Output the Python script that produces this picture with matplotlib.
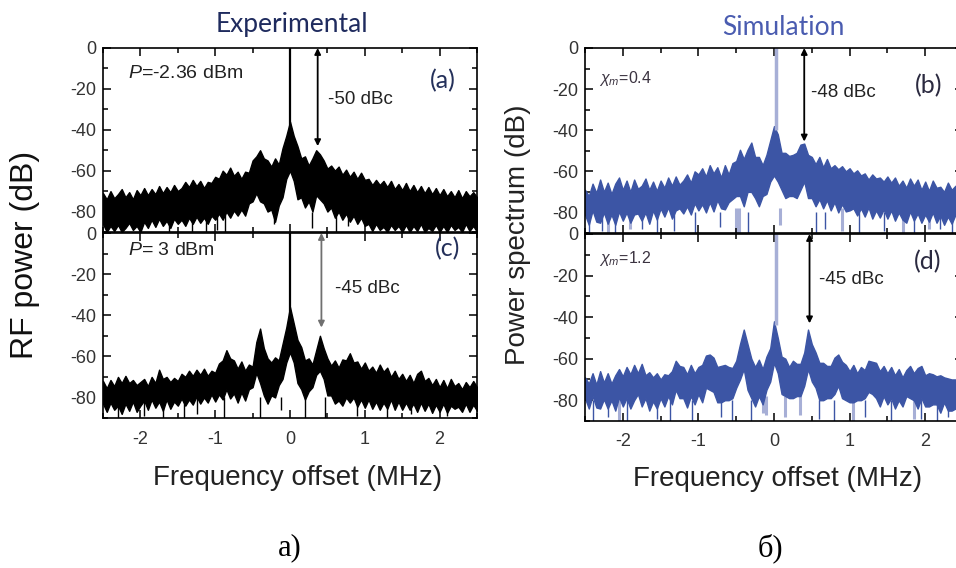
import numpy as np
import matplotlib
matplotlib.use('Agg')
import matplotlib.pyplot as plt
from matplotlib.ticker import MultipleLocator

plt.rcParams['font.family'] = ['Liberation Sans', 'DejaVu Sans']
plt.rcParams['axes.unicode_minus'] = False
plt.rcParams['mathtext.fontset'] = 'custom'
plt.rcParams['mathtext.rm'] = 'Liberation Sans'
plt.rcParams['mathtext.it'] = 'Liberation Sans:italic'

# frequency grid (MHz), 0.05 MHz step
freq = np.linspace(-2.5, 2.5, 101)

# (a) experimental, P = -2.36 dBm : upper / lower edge of the noisy trace (dB)
a_upper = [-71, -74, -70, -73.5, -71.5, -69, -73, -70.5, -74, -69.5, -72,
           -68.5, -72, -69, -71.5, -67.5, -71, -68, -70.5, -67, -70,
           -68.5, -65.5, -68, -64.5, -67.5, -65, -68.5, -65.5, -66, -63,
           -64, -60, -62, -58.5, -62.5, -60.5, -64, -60.5, -61, -55,
           -53, -50, -54, -55, -58, -54, -57, -49, -43, -36,
           -43, -48, -54, -53, -57.5, -54, -50, -52, -55, -59,
           -57.5, -60, -58, -62, -59.5, -63, -60.5, -64, -61, -64.5,
           -64, -67, -64.5, -67, -65, -68, -65, -69, -66.5, -69.5,
           -66, -70, -67, -70.5, -67.5, -71, -68, -71.5, -68.5, -72,
           -69, -72.5, -70, -73, -69.5, -73.5, -70, -72.5, -70.5, -73]
a_lower = [-86, -90, -87, -89.5, -86.5, -90, -88, -85.5, -89, -87, -90,
           -85, -88, -84, -87.5, -83.5, -87, -84.5, -88, -83.5, -86,
           -84, -87, -83, -86, -82.5, -85.5, -83, -86, -82, -84,
           -81, -84, -80, -83, -79.5, -82, -79, -82, -76, -75,
           -71, -75, -76, -80, -79, -85, -77, -73, -64, -60,
           -65, -74, -73, -78, -75, -80, -72, -74, -76, -80,
           -78, -83, -80, -84, -81, -85, -82, -86, -83, -87,
           -86, -89.5, -86, -89, -87.5, -90, -86.5, -89, -87, -90,
           -86.5, -90, -87, -89.5, -86, -90, -88, -89.5, -86.5, -90,
           -87, -90, -86.5, -89, -87.5, -90, -86, -89.5, -87, -90]
a_spike_x = [-1.62, -1.31, -1.12, -0.98, -0.87, -0.21, 0.29, 0.61, 0.77]
a_spike_y = [-90, -90, -90, -89, -90, -86, -88, -90, -87]

# (c) experimental, P = 3 dBm
c_upper = [-72, -75.5, -71.5, -74.5, -70, -73, -69.5, -73, -71.5, -74, -72.5,
           -71, -74.5, -70, -73, -66.5, -71, -70, -72.5, -70.5, -72,
           -68.5, -70, -67, -69.5, -66.5, -69, -66, -69.5, -67, -68,
           -63.5, -62, -57, -61, -62, -66, -62.5, -67, -64, -65,
           -53, -46.5, -56, -61, -63, -60.5, -62, -54, -46, -36,
           -44, -52, -55.5, -62, -61, -64, -57, -50, -56, -61,
           -64.5, -62, -65.5, -61.5, -62, -58.5, -63, -62.5, -66, -63,
           -67, -65, -68, -64, -67.5, -65.5, -70, -67, -71, -68.5,
           -72, -69, -73, -68.5, -67, -72, -70.5, -74, -71, -75,
           -71.5, -75.5, -71, -74.5, -73, -76, -72.5, -75, -72, -75]
c_lower = [-83, -87, -82.5, -86, -84, -88, -83, -86.5, -82, -87, -84,
           -81.5, -86, -81, -85, -82, -86.5, -81, -85.5, -82, -84,
           -80.5, -84, -81, -83.5, -79.5, -83, -80, -82.5, -78.5, -82,
           -78.5, -81, -76, -80.5, -78, -82.5, -77.5, -81.5, -76, -75,
           -68, -73, -79, -83, -79, -80, -74, -71, -63, -58,
           -63, -73, -76, -81, -77, -75, -69, -67, -71, -79,
           -79, -83, -81.5, -84, -80, -82.5, -80, -84.5, -81, -85,
           -81, -85.5, -82, -86, -82.5, -85.5, -81, -86, -82, -86,
           -82.5, -86, -83, -87, -82.5, -86.5, -83, -87.5, -83.5, -87,
           -83, -87.5, -84, -85.5, -84.5, -87, -83, -87, -83.5, -86.5]
c_spike_x = [-2.3, -1.95, -1.7, -1.42, -1.25, -0.88, -0.4, -0.12, 0.2, 0.47, 0.9, 1.3, 1.62, 2.1]
c_spike_y = [-90, -89, -90, -90, -88, -90, -90, -86, -90, -90, -89, -90, -88, -89]

# (b) simulation, chi_m = 0.4
b_upper = [-69, -72, -66, -70.5, -64, -70, -65.5, -71, -66, -63, -69,
           -64.5, -70, -64, -68.5, -67, -63.5, -69, -65, -69.5, -64.5,
           -68, -63, -67, -62.5, -66.5, -64.5, -61.5, -65.5, -60, -61.5,
           -58.5, -62.5, -57, -61, -58, -63, -57, -61.5, -56, -55,
           -49.5, -54, -49.5, -46, -53, -53, -57, -52, -45, -38,
           -42, -51, -51, -52.5, -52, -51, -47, -46.5, -52, -53,
           -56.5, -53, -58, -54, -58.5, -57, -59, -57.5, -60, -58.5,
           -61, -59.5, -62, -61, -64, -61.5, -63.5, -63, -65, -62.5,
           -65.5, -63, -67, -64.5, -68, -63.5, -67, -64, -69, -65,
           -69.5, -64.5, -68, -67.5, -70, -65.5, -69, -67, -71, -67.5]
b_lower = [-81, -86, -79, -84.5, -85, -80, -85.5, -81, -86, -79.5, -84,
           -80, -85, -81, -80.5, -84, -80, -85.5, -79, -83.5, -78,
           -82, -77.5, -83, -79, -78, -80.5, -77, -81, -75.5, -79,
           -76, -80, -75, -79.5, -74, -78, -78.5, -75, -73.5, -72,
           -72, -77, -70, -70, -73, -77, -72, -71, -65, -62,
           -65, -69, -73, -72, -72, -73, -69, -65, -73, -73,
           -77, -73.5, -78, -74, -79, -75, -80, -76, -79.5, -79,
           -78, -81.5, -78, -82, -77.5, -83, -79, -82.5, -78.5, -83,
           -79, -84, -80, -83.5, -85, -79.5, -84, -80.5, -85, -81,
           -84.5, -80, -85, -81.5, -86, -82, -85.5, -81, -86.5, -82]
b_spike_x = [-2.45, -2.28, -2.1, -1.75, -1.55, -1.32, -1.05, -0.72, -0.35,
             0.55, 0.68, 1.12, 1.45, 1.85, 2.2, 2.35]
b_spike_y = [-90, -89, -90, -88, -90, -89, -90, -87, -90, -90, -88, -90, -89, -90, -88, -90]
b_light_x = [-2.2, -1.9, -0.5, -0.46, 0.08, 0.9, 1.7, 2.05]
b_light_y = [-90, -88, -90, -90, -86, -89, -90, -88]

# (d) simulation, chi_m = 1.2
d_upper = [-69, -72, -67, -72.5, -66, -71.5, -67, -72, -68, -65, -68.5,
           -64, -67.5, -63, -67, -62.5, -68, -66.5, -69, -67, -70,
           -67.5, -68, -66, -61, -63.5, -64, -67.5, -63, -67, -64,
           -63, -58.5, -58, -59.5, -64, -63.5, -63, -64, -64.5, -61,
           -53, -46, -53, -60, -64, -60.5, -65, -59, -55, -42,
           -50, -59, -60, -64, -61, -62.5, -62.5, -57, -46, -53,
           -57, -62, -62, -63.5, -63.5, -59.5, -58, -61.5, -63, -66,
           -63, -67, -64, -65.5, -61, -61.5, -62, -66, -63.5, -67,
           -64, -68, -65, -69, -65.5, -63.5, -67, -64.5, -63.5, -68,
           -67, -67.5, -68.5, -68, -69, -69.5, -70, -70, -69.5, -69]
d_lower = [-79, -84, -78, -83.5, -84, -79.5, -84, -80, -85, -78.5, -83,
           -79, -84, -80, -77, -83, -79, -85, -80.5, -84, -79,
           -83, -78, -82, -75, -79, -79, -83.5, -78, -82, -77,
           -81, -74, -75, -76, -81, -81, -80, -80, -79, -74,
           -70, -65, -75, -79, -83, -78, -82, -75, -71, -62,
           -67, -77, -78, -79, -79, -78, -78, -73, -65, -71,
           -74, -80, -80, -79, -79, -77, -73, -79, -80, -81,
           -81, -80, -80, -79, -76, -77, -79, -83, -78, -82,
           -79, -84, -80, -83, -78, -79, -80, -84, -79, -83,
           -83, -82, -82, -86, -81, -85, -85, -84, -84, -83]
d_spike_x = [-2.4, -2.2, -1.95, -1.55, -1.38, -1.08, -0.7, -0.55, -0.3,
             0.6, 0.8, 1.2, 1.55, 1.95, 2.15, 2.3]
d_spike_y = [-90, -88, -90, -89, -90, -90, -88, -90, -90, -89, -90, -88, -90, -89, -90, -88]
d_light_x = [-2.05, -0.15, -0.1, 0.15, 0.35, 1.05, 1.85]
d_light_y = [-90, -86, -87, -88, -87, -90, -89]

# carrier line and sideband arrow (a, c, b, d)
carrier_x = [0.0, 0.0, 0.03, 0.03]
arrow_x = [0.37, 0.42, 0.40, 0.47]
arrow_low = [-48, -46, -45.5, -43]

BLUE = '#3c55a5'
LIGHT = '#a7afd6'


def box(l, t, r, b):
    return [l / 956, 1 - b / 568, (r - l) / 956, (b - t) / 568]


def style(ax, xlabels):
    ax.set_xlim(-2.5, 2.5)
    ax.set_ylim(-90, 0)
    ax.xaxis.set_major_locator(MultipleLocator(1))
    ax.xaxis.set_minor_locator(MultipleLocator(0.5))
    ax.yaxis.set_major_locator(MultipleLocator(20))
    ax.yaxis.set_minor_locator(MultipleLocator(10))
    ax.tick_params(which='both', direction='in', top=True, right=True,
                   width=1.1, colors='black', labelcolor='#333333', labelsize=13)
    ax.tick_params(which='major', length=6)
    ax.tick_params(which='minor', length=3.5)
    ax.tick_params(axis='x', pad=9)
    ax.tick_params(axis='y', pad=5)
    if not xlabels:
        ax.tick_params(axis='x', labelbottom=False)
    for s in ax.spines.values():
        s.set_linewidth(1.2)
        s.set_zorder(6)


def trace(ax, upper, lower, color, sx, sy, lx=None, ly=None, light=None):
    if lx is not None:
        ax.vlines(lx, ly, -78, color=light, lw=2.2, zorder=1)
    ax.fill_between(freq, lower, upper, facecolor=color, edgecolor=color,
                    lw=1.0, zorder=2)
    ax.vlines(sx, sy, -80, color=color, lw=1.0, zorder=2)


def arrow(ax, x, low, color):
    ax.annotate('', xy=(x, low), xytext=(x, 0),
                arrowprops=dict(arrowstyle='<|-|>', color=color, lw=1.3,
                                mutation_scale=9, shrinkA=0, shrinkB=0), zorder=5)


fig = plt.figure(figsize=(9.56, 5.68), dpi=100)
axA = fig.add_axes(box(103, 48, 477, 232))
axC = fig.add_axes(box(103, 233, 477, 418))
axB = fig.add_axes(box(585, 48, 963, 233))
axD = fig.add_axes(box(585, 234, 963, 421))

style(axA, False)
style(axC, True)
style(axB, False)
style(axD, True)

trace(axA, a_upper, a_lower, 'black', a_spike_x, a_spike_y)
axA.vlines(carrier_x[0], -45, 0, color='black', lw=1.6, zorder=3)
arrow(axA, arrow_x[0], arrow_low[0], 'black')

trace(axC, c_upper, c_lower, 'black', c_spike_x, c_spike_y)
axC.vlines(carrier_x[1], -45, 0, color='black', lw=1.6, zorder=3)
arrow(axC, arrow_x[1], arrow_low[1], '#707070')

trace(axB, b_upper, b_lower, BLUE, b_spike_x, b_spike_y, b_light_x, b_light_y, LIGHT)
axB.vlines(carrier_x[2], -40, 0, color=LIGHT, lw=2.5, zorder=3)
arrow(axB, arrow_x[2], arrow_low[2], 'black')

trace(axD, d_upper, d_lower, BLUE, d_spike_x, d_spike_y, d_light_x, d_light_y, LIGHT)
axD.vlines(carrier_x[3], -44, 0, color=LIGHT, lw=2.5, zorder=3)
arrow(axD, arrow_x[3], arrow_low[3], 'black')

# panel annotations
axA.text(-2.17, -12.7, '$P$=-2.36 dBm', fontsize=14, color='#222222', va='center')
axA.text(2.04, -15.9, '(a)', fontsize=18, family='Lato', color='#24305a', ha='center', va='center')
axA.text(0.51, -25.4, '-50 dBc', fontsize=13.5, color='#222222', va='center')

axC.text(-2.16, -8.3, '$P$= 3 dBm', fontsize=14, color='#222222', va='center')
axC.text(2.1, -7.5, '(c)', fontsize=18, family='Lato', color='#24305a', ha='center', va='center')
axC.text(0.6, -26.8, '-45 dBc', fontsize=13.5, color='#222222', va='center')

axB.text(-2.32, -15, r'$\chi_{m}$=0.4', fontsize=11.5, color='#3b3340', va='center')
axB.text(2.04, -18.5, '(b)', fontsize=18, family='Lato', color='#2b2a40', ha='center', va='center')
axB.text(0.49, -21.5, '-48 dBc', fontsize=13.5, color='#222222', va='center')

axD.text(-2.32, -12, r'$\chi_{m}$=1.2', fontsize=11.5, color='#3b3340', va='center')
axD.text(2.03, -13.5, '(d)', fontsize=18, family='Lato', color='#2b2a40', ha='center', va='center')
axD.text(0.59, -22, '-45 dBc', fontsize=13.5, color='#222222', va='center')

# titles, axis labels, sub-figure letters
fig.text(292 / 956, 1 - 32 / 568, 'Experimental', family='Lato', fontsize=19,
         color='#1f2b5e', ha='center', va='baseline')
fig.text(783 / 956, 1 - 35 / 568, 'Simulation', family='Lato', fontsize=19,
         color='#4a5cb0', ha='center', va='baseline')
fig.text(25 / 956, 1 - 255 / 568, 'RF power (dB)', fontsize=23, rotation=90,
         ha='center', va='center', color='#111111')
fig.text(518 / 956, 1 - 235 / 568, 'Power spectrum (dB)', fontsize=20, rotation=90,
         ha='center', va='center', color='#222222')
fig.text(298 / 956, 1 - 478 / 568, 'Frequency offset (MHz)', fontsize=20,
         ha='center', va='center', color='#222222')
fig.text(778 / 956, 1 - 479 / 568, 'Frequency offset (MHz)', fontsize=20,
         ha='center', va='center', color='#222222')
fig.text(290 / 956, 1 - 548 / 568, 'а)', family='Liberation Serif', fontsize=22,
         ha='center', va='center')
fig.text(770 / 956, 1 - 548 / 568, 'б)', family='Liberation Serif', fontsize=22,
         ha='center', va='center')

fig.savefig('out.png', dpi=100)
